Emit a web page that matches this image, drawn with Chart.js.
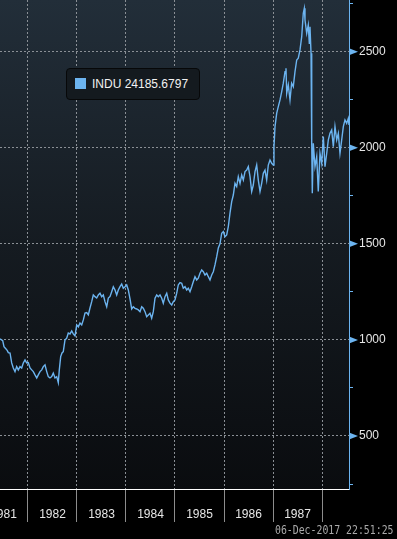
<!DOCTYPE html>
<html>
<head>
<meta charset="utf-8">
<script src="https://cdn.jsdelivr.net/npm/chart.js@4.4.0/dist/chart.umd.min.js"></script>
<style>
  html, body { margin: 0; padding: 0; background: #000; }
  #wrap { position: relative; width: 397px; height: 539px; overflow: hidden; background: #000; }
  #c { position: absolute; left: 0; top: 0; }
  #legend { position: absolute; left: 66px; top: 68px; width: 132px; height: 30px; border: 1px solid #070809;
            border-radius: 4px; background: #141a1f; font-family: "Liberation Sans", Arial, sans-serif;
            font-size: 12px; color: #f2f2f2; box-sizing: content-box; }
  #legend .sw { position: absolute; left: 8px; top: 9px; width: 11px; height: 11px; background: #6cb4f0; }
  #legend .tx { position: absolute; left: 25px; top: 8px; line-height: 14px; white-space: nowrap; }
  #stamp { position: absolute; left: 275px; top: 523px; font-family: "DejaVu Sans Mono", monospace; font-size: 12px;
           color: #a9a9a9; white-space: nowrap; transform-origin: 0 0; transform: scaleX(0.82); line-height: 14px; }
</style>
</head>
<body>
<div id="wrap">
  <canvas id="c" width="397" height="539"></canvas>
  <div id="legend"><div class="sw"></div><div class="tx">INDU 24185.6797</div></div>
  <div id="stamp">06-Dec-2017 22:51:25</div>
</div>
<script>
// ---- data (decimal year, index level) ----
const SERIES_NAME = "INDU";
const T = [1981.429,1981.484,1981.510,1981.551,1981.578,1981.598,1981.633,1981.667,1981.700,1981.735,1981.769,1981.802,1981.837,1981.871,1981.904,1981.939,1981.973,
1982.006,1982.041,1982.076,1982.108,1982.143,1982.178,1982.210,1982.245,1982.280,1982.312,1982.347,1982.382,1982.414,1982.449,1982.484,1982.516,1982.551,1982.586,1982.618,1982.639,1982.667,1982.694,1982.720,1982.755,1982.790,1982.822,1982.857,1982.892,1982.924,1982.959,1982.994,
1983.027,1983.061,1983.096,1983.129,1983.163,1983.198,1983.231,1983.265,1983.300,1983.333,1983.367,1983.402,1983.435,1983.469,1983.504,1983.537,1983.571,1983.606,1983.639,1983.673,1983.708,1983.741,1983.776,1983.810,1983.843,1983.878,1983.912,1983.945,1983.980,
1984.014,1984.047,1984.082,1984.116,1984.149,1984.184,1984.218,1984.251,1984.286,1984.320,1984.353,1984.388,1984.422,1984.455,1984.490,1984.524,1984.557,1984.592,1984.627,1984.659,1984.694,1984.729,1984.761,1984.796,1984.831,1984.863,1984.898,1984.933,1984.965,
1985.000,1985.035,1985.067,1985.102,1985.137,1985.169,1985.204,1985.239,1985.271,1985.306,1985.341,1985.373,1985.408,1985.443,1985.475,1985.510,1985.545,1985.578,1985.612,1985.647,1985.680,1985.714,1985.749,1985.782,1985.816,1985.851,1985.884,1985.918,1985.953,1985.986,
1986.020,1986.055,1986.088,1986.122,1986.157,1986.190,1986.224,1986.259,1986.292,1986.327,1986.361,1986.394,1986.429,1986.463,1986.496,1986.531,1986.565,1986.598,1986.633,1986.667,1986.700,1986.735,1986.769,1986.802,1986.837,1986.871,1986.904,1986.939,1986.973,
1987.006,1987.020,1987.041,1987.076,1987.108,1987.143,1987.178,1987.210,1987.245,1987.265,1987.280,1987.312,1987.347,1987.380,1987.414,1987.449,1987.484,1987.516,1987.551,1987.586,1987.618,1987.639,1987.653,1987.688,1987.720,1987.741,1987.755,1987.776,1987.790,1987.802,1987.822,1987.857,1987.892,1987.924,1987.959,1987.994,
1988.027,1988.061,1988.096,1988.129,1988.163,1988.198,1988.231,1988.265,1988.300,1988.333,1988.367,1988.402,1988.435,1988.469,1988.504,1988.537,1988.551];
const V = [1005,996,965,953,944,934,932,880,854,835,861,844,861,854,880,896,880,
882,854,844,835,818,802,818,835,844,861,870,835,809,802,809,827,802,809,778,844,913,932,939,1000,1009,1036,1031,1047,1031,1021,1078,
1068,1088,1078,1104,1140,1142,1130,1166,1199,1234,1225,1218,1234,1243,1225,1234,1199,1173,1218,1225,1251,1277,1260,1234,1260,1277,1291,1269,1277,
1286,1260,1213,1161,1172,1164,1161,1156,1147,1173,1165,1147,1121,1130,1139,1113,1147,1217,1234,1225,1234,1217,1191,1225,1243,1208,1191,1182,1199,
1208,1243,1286,1298,1295,1269,1277,1260,1269,1251,1277,1303,1329,1312,1321,1347,1364,1355,1338,1347,1329,1312,1338,1355,1390,1433,1479,1500,1555,1564,
1537,1546,1590,1659,1720,1754,1815,1798,1850,1815,1858,1832,1876,1884,1902,1850,1772,1806,1876,1910,1832,1772,1815,1867,1884,1832,1910,1936,1919,
1910,2006,2110,2180,2214,2249,2292,2336,2396,2414,2284,2327,2249,2336,2318,2396,2457,2466,2509,2578,2700,2726,2665,2596,2639,2544,2630,2492,2023,1763,2023,1902,1954,1772,1971,1919,
2058,1902,1971,2041,2075,2093,2006,2110,2041,2075,1971,2041,2110,2145,2127,2153,2119];
const YEAR_TICKS = [1981,1982,1983,1984,1985,1986,1987,1988];
const Y_TICKS = [250,500,750,1000,1250,1500,1750,2000,2250,2500,2750];
const X_MIN = 1981.4286, X_MAX = 1988.551;
const Y_MIN = 224, Y_MAX = 2769;

const LINE = '#6cb4f0';
const GRID = '#8a8f95';
const isMajor = v => v % 500 === 0;

const bgPlugin = {
  id: 'bg',
  beforeDraw(chart) {
    const {ctx, chartArea: a} = chart;
    const g = ctx.createLinearGradient(0, a.top, 0, a.bottom);
    g.addColorStop(0, '#222e39');
    g.addColorStop(0.5, '#151b21');
    g.addColorStop(1, '#0a0c0f');
    ctx.save();
    ctx.fillStyle = g;
    ctx.fillRect(a.left, a.top, a.right - a.left, a.bottom - a.top);
    ctx.restore();
  }
};
const arrowPlugin = {
  id: 'arrows',
  afterDraw(chart) {
    const s = chart.scales.y, ctx = chart.ctx;
    ctx.save();
    ctx.fillStyle = LINE;
    Y_TICKS.filter(isMajor).forEach(v => {
      const y = s.getPixelForValue(v);
      ctx.beginPath();
      ctx.moveTo(s.left, y - 3.5);
      ctx.lineTo(s.left + 9, y);
      ctx.lineTo(s.left, y + 3.5);
      ctx.closePath();
      ctx.fill();
    });
    ctx.restore();
  }
};

const FONT = {family: '"Liberation Sans", Arial, sans-serif', size: 12};

new Chart(document.getElementById('c'), {
  type: 'line',
  data: {
    datasets: [{
      label: SERIES_NAME,
      data: T.map((t, i) => ({x: t, y: V[i]})),
      borderColor: LINE,
      borderWidth: 1.4,
      pointRadius: 0,
      tension: 0,
      fill: false
    }]
  },
  options: {
    responsive: false,
    devicePixelRatio: 1,
    animation: false,
    layout: {padding: 0},
    plugins: {legend: {display: false}, tooltip: {enabled: false}},
    scales: {
      x: {
        type: 'linear', position: 'bottom', min: X_MIN, max: X_MAX,
        afterBuildTicks: s => { s.ticks = YEAR_TICKS.map(v => ({value: v})); },
        afterFit: s => { s.height = 50; s.paddingLeft = 0; s.paddingRight = 0; },
        ticks: {
          autoSkip: false, maxRotation: 0, minRotation: 0, labelOffset: 24.5, padding: -15,
          color: '#e6e6e6', font: FONT,
          callback: v => v < 1988 ? String(v) : ''
        },
        grid: { color: GRID, lineWidth: 1, tickLength: 33, tickColor: '#8c8c8c', tickWidth: 1 },
        border: { color: '#ffffff', width: 1, dash: [2, 2] }
      },
      y: {
        type: 'linear', position: 'right', min: Y_MIN, max: Y_MAX,
        afterBuildTicks: s => { s.ticks = Y_TICKS.map(v => ({value: v})); },
        afterFit: s => { s.width = 48; s.paddingTop = 0; s.paddingBottom = 0; },
        ticks: {
          autoSkip: false, padding: 6, color: '#e6e6e6', font: FONT,
          callback: v => isMajor(v) ? String(v) : ''
        },
        grid: {
          color: c => (c.tick && isMajor(c.tick.value)) ? GRID : 'rgba(0,0,0,0)',
          lineWidth: 1, tickLength: 4,
          tickColor: c => (c.tick && isMajor(c.tick.value)) ? 'rgba(0,0,0,0)' : LINE
        },
        border: { color: LINE, width: 1, dash: [2, 2] }
      }
    }
  },
  plugins: [bgPlugin, arrowPlugin]
});
</script>
</body>
</html>
